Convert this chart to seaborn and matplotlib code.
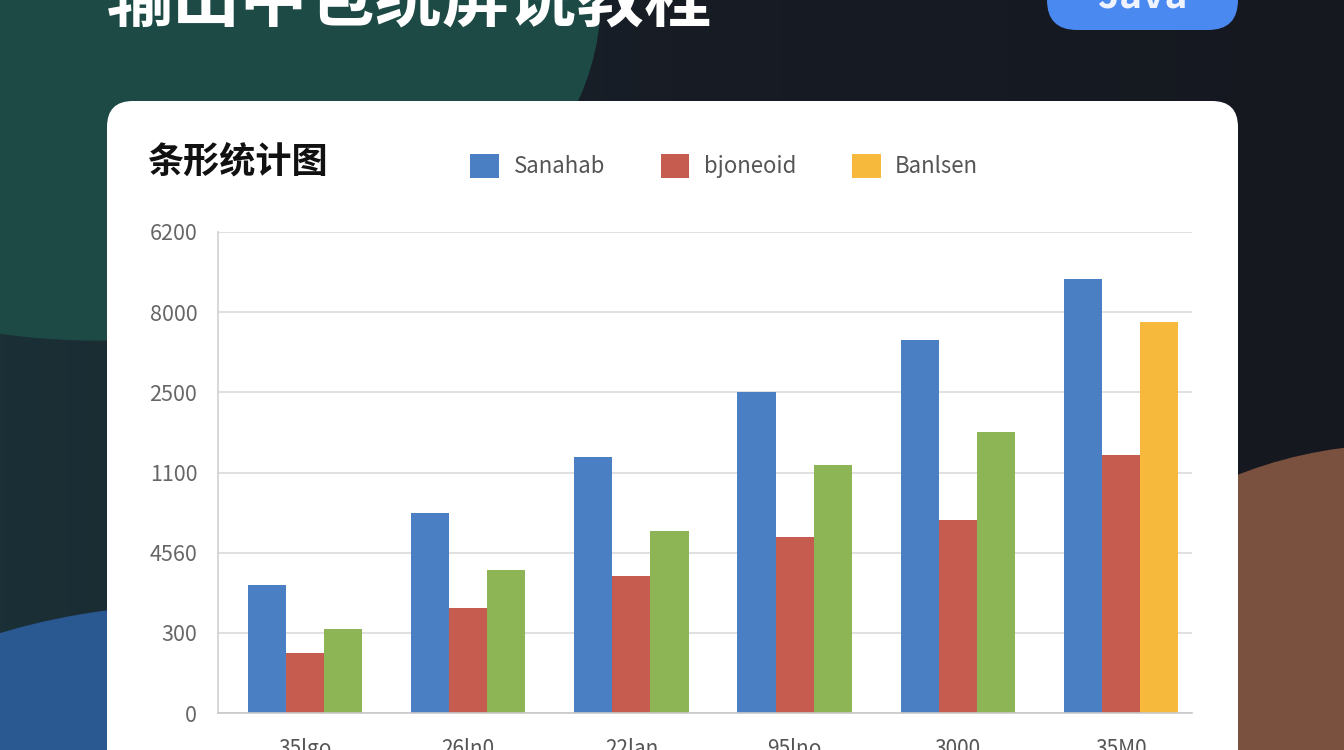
import numpy as np
import pandas as pd
import seaborn as sns
import matplotlib.pyplot as plt
from matplotlib.patches import Ellipse, FancyBboxPatch
from matplotlib.colors import LinearSegmentedColormap

# chart data (values in gridline units, labels as shown on the picture)
categories = ['35lgo', '26ln0', '22lan', '95lno', '3000', '35M0']
series_names = ['Sanahab', 'bjoneoid', 'Banlsen']
sanahab = [1.60, 2.49, 3.19, 4.00, 4.65, 5.41]
bjoneoid = [0.75, 1.31, 1.71, 2.20, 2.41, 3.22]
banlsen = [1.05, 1.78, 2.27, 3.09, 3.50, 4.88]
y_tick_labels = ['0', '300', '4560', '1100', '2500', '8000', '6200']

page_title = '输出中包统屏说教程'
card_title = '条形统计图'
badge_text = 'Java'

# styles
blue = '#4a7fc3'
red = '#c65b4f'
green = '#8db556'
yellow = '#f6b93b'
palette = {'Sanahab': blue, 'bjoneoid': red, 'Banlsen': yellow}

df = pd.DataFrame({'cat': categories, 'Sanahab': sanahab,
                   'bjoneoid': bjoneoid, 'Banlsen': banlsen})
df = df.melt(id_vars='cat', value_vars=series_names,
             var_name='series', value_name='value')

sns.set_theme(style='white')
plt.rcParams['font.family'] = ['Noto Sans CJK SC', 'DejaVu Sans']

fig = plt.figure(figsize=(13.44, 7.5), dpi=100)

# background in pixel coordinates
bg = fig.add_axes([0, 0, 1, 1])
bg.set_xlim(0, 1344)
bg.set_ylim(750, 0)
bg.axis('off')
cmap = LinearSegmentedColormap.from_list('bg', ['#1b3036', '#171c25', '#15181f'])
grad = np.linspace(0, 1, 256).reshape(1, -1)
bg.imshow(grad, extent=[0, 1344, 750, 0], aspect='auto', cmap=cmap, zorder=0)
bg.add_patch(Ellipse((100, 0), 1000, 680, color='#1d4a45', zorder=1))
bg.add_patch(Ellipse((200, 950), 1000, 690, color='#2a5890', zorder=1))
bg.add_patch(Ellipse((1400, 800), 800, 710, color='#7a513f', zorder=1))
bg.add_patch(FancyBboxPatch((107, 101), 1131, 720,
                            boxstyle='round,pad=0,rounding_size=26',
                            fc='white', ec='none', zorder=3))
bg.add_patch(FancyBboxPatch((1047, -40), 191, 70,
                            boxstyle='round,pad=0,rounding_size=30',
                            fc='#4a8af0', ec='none', zorder=3))
bg.text(105, 22, page_title, color='white', fontsize=48.5, fontweight='bold',
        va='baseline', zorder=4)
bg.text(1142, 8, badge_text, color='#eef3ff', fontsize=28, fontweight='bold',
        ha='center', va='baseline', zorder=4)
bg.text(147, 162, card_title, color='#111111', fontsize=26, fontweight='bold',
        va='center', zorder=4)

# the chart
ax = fig.add_axes([218 / 1344, 37 / 750, 974 / 1344, 481 / 750])
ax.set_facecolor('none')
sns.barplot(data=df, x='cat', y='value', hue='series', hue_order=series_names,
            palette=palette, width=0.70, saturation=1, edgecolor='none', ax=ax)
# third series is green except in the last group
for p in list(ax.containers[2])[:-1]:
    p.set_facecolor(green)

x_left, x_right = -0.533, len(categories) - 0.565
ax.set_xlim(x_left, x_right)
ax.set_ylim(0, 6)
ax.set_yticks(range(len(y_tick_labels)))
ax.set_yticklabels(y_tick_labels)
ax.yaxis.grid(True, color='#dddddd', lw=1.3)
ax.set_axisbelow(True)
ax.set_xlabel('')
ax.set_ylabel('')
for s in ['top', 'right']:
    ax.spines[s].set_visible(False)
ax.spines['left'].set_color('#d3d3d3')
ax.spines['bottom'].set_color('#c8c8c8')
ax.spines['bottom'].set_linewidth(1.2)
bounds = [x_left] + [i + 0.51 for i in range(len(categories) - 1)] + [x_right]
ax.set_xticks(bounds, minor=True)
ax.tick_params(axis='x', which='minor', length=9, width=1.2, color='#c8c8c8')
ax.tick_params(axis='x', which='major', length=0, pad=18, labelsize=15,
               labelcolor='#555555')
ax.tick_params(axis='y', length=0, pad=15, labelsize=15.5, labelcolor='#666666')

sns.move_legend(ax, 'center left', bbox_to_anchor=(0.259, 1.137), ncol=3,
                frameon=False, title=None, fontsize=16, handlelength=1.3,
                handleheight=1.3, handletextpad=0.65, columnspacing=2.5,
                borderpad=0, borderaxespad=0)
for t in ax.get_legend().get_texts():
    t.set_color('#555555')

fig.savefig('out.png', dpi=100)
